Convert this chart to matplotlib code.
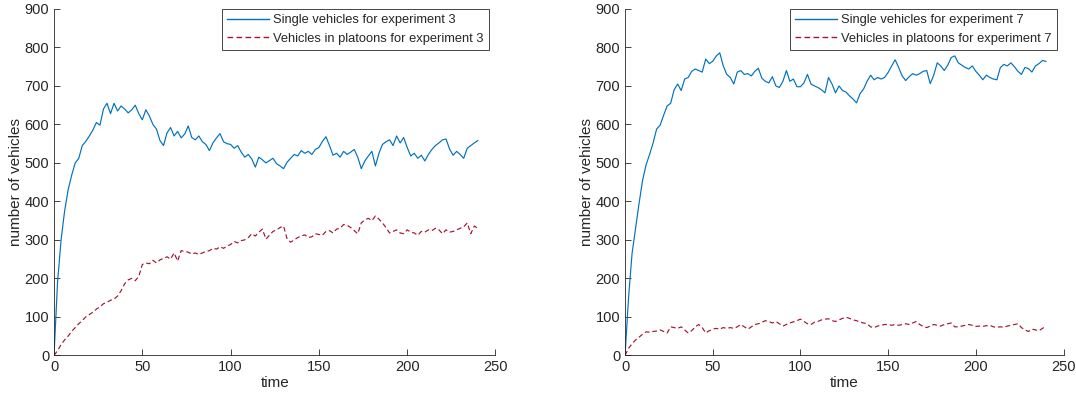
import numpy as np
import matplotlib.pyplot as plt

plt.rcParams['font.family'] = ['Liberation Sans', 'DejaVu Sans']

# time axis, sampled every 2 time units
t = np.arange(0, 241, 2)

# experiment 3
single_3 = [
    0, 190, 300, 375, 430, 468, 500, 512, 545, 556, 570, 585, 605, 598, 640, 655,
    628, 655, 635, 648, 640, 630, 638, 650, 628, 612, 638, 622, 600, 588, 558, 545,
    578, 592, 570, 582, 565, 575, 596, 566, 560, 570, 555, 548, 532, 552, 565, 576,
    555, 550, 548, 538, 545, 528, 515, 522, 510, 489, 515, 508, 500, 506, 512, 498,
    492, 485, 502, 512, 522, 518, 532, 525, 530, 522, 535, 540, 556, 568, 545, 520,
    525, 515, 530, 522, 528, 535, 515, 485, 505, 518, 530, 492, 525, 548, 555, 560,
    545, 570, 552, 566, 540, 518, 525, 512, 520, 505, 522, 535, 545, 552, 560, 562,
    536, 520, 530, 522, 512, 538, 545, 552, 558,
]
platoon_3 = [
    0, 12, 28, 40, 50, 62, 72, 82, 90, 100, 106, 112, 120, 126, 134, 138,
    143, 146, 154, 168, 186, 196, 200, 194, 205, 236, 240, 238, 247, 240, 248, 252,
    256, 250, 266, 245, 272, 270, 268, 263, 266, 262, 266, 270, 272, 278, 276, 282,
    278, 284, 288, 296, 292, 298, 300, 306, 316, 310, 320, 328, 302, 312, 322, 326,
    332, 336, 302, 294, 300, 306, 310, 313, 306, 308, 316, 314, 312, 322, 324, 318,
    328, 330, 340, 338, 332, 324, 316, 344, 352, 356, 350, 362, 354, 344, 332, 318,
    322, 326, 318, 316, 326, 320, 318, 312, 322, 320, 326, 324, 330, 326, 316, 326,
    320, 322, 326, 330, 334, 344, 316, 336, 330,
]

# experiment 7
single_7 = [
    0, 150, 265, 330, 395, 455, 495, 522, 552, 588, 598, 624, 648, 655, 690, 705,
    688, 718, 722, 738, 744, 740, 736, 770, 758, 764, 778, 786, 752, 730, 722, 705,
    736, 740, 730, 732, 726, 738, 746, 720, 712, 708, 724, 700, 696, 712, 740, 712,
    718, 698, 698, 708, 730, 705, 700, 696, 690, 682, 722, 705, 682, 700, 688, 684,
    674, 666, 656, 680, 692, 712, 728, 716, 722, 718, 722, 735, 752, 768, 748, 726,
    714, 724, 732, 728, 732, 738, 740, 706, 728, 760, 752, 740, 754, 774, 778, 760,
    754, 748, 744, 752, 738, 728, 716, 728, 722, 718, 716, 748, 756, 752, 760, 750,
    738, 730, 748, 745, 736, 752, 758, 766, 764,
]
platoon_7 = [
    0, 18, 30, 40, 47, 55, 61, 60, 62, 63, 66, 62, 58, 74, 72, 70,
    74, 66, 58, 64, 74, 80, 72, 58, 64, 68, 70, 68, 72, 70, 72, 70,
    74, 80, 74, 68, 74, 80, 82, 86, 90, 88, 84, 88, 82, 76, 80, 84,
    87, 90, 94, 88, 82, 80, 86, 88, 92, 94, 95, 90, 88, 92, 96, 99,
    96, 92, 90, 86, 84, 82, 74, 72, 76, 78, 80, 80, 78, 80, 78, 80,
    82, 80, 84, 88, 80, 75, 72, 76, 80, 78, 76, 80, 82, 84, 74, 74,
    76, 78, 80, 78, 75, 76, 75, 77, 78, 74, 73, 74, 73, 76, 78, 80,
    82, 72, 66, 62, 68, 66, 64, 70, 76,
]

BLUE = '#0072BD'
RED = '#A2142F'
GREY = '#262626'

fig = plt.figure(figsize=(10.76, 3.94), dpi=100)
ax1 = fig.add_axes([0.0502, 0.0982, 0.4103, 0.879])
ax2 = fig.add_axes([0.5809, 0.0982, 0.4075, 0.879])

panels = [(ax1, single_3, platoon_3, '3'), (ax2, single_7, platoon_7, '7')]
for ax, single, platoon, exp in panels:
    ax.plot(t, single, color=BLUE, lw=0.85,
            label='Single vehicles for experiment ' + exp)
    ax.plot(t, platoon, color=RED, lw=0.85, ls=(0, (4, 2.5)),
            label='Vehicles in platoons for experiment ' + exp)
    ax.set_xlim(0, 250)
    ax.set_ylim(0, 900)
    ax.set_xticks(range(0, 251, 50))
    ax.set_yticks(range(0, 901, 100))
    ax.spines['top'].set_visible(False)
    ax.spines['right'].set_visible(False)
    for s in ('left', 'bottom'):
        ax.spines[s].set_color(GREY)
        ax.spines[s].set_linewidth(0.6)
    ax.tick_params(direction='in', length=4, width=0.6, colors=GREY,
                   labelsize=10.5)
    ax.set_xlabel('time', fontsize=11, color=GREY, labelpad=1)
    ax.set_ylabel('number of vehicles', fontsize=11, color=GREY, labelpad=1)
    leg = ax.legend(loc='upper right', bbox_to_anchor=(0.985, 1.0),
                    fontsize=9.3, handlelength=3.3, handletextpad=0.3,
                    borderaxespad=0, fancybox=False, framealpha=1,
                    borderpad=0.4, labelspacing=0.5)
    leg.get_frame().set_edgecolor(GREY)
    leg.get_frame().set_linewidth(0.6)
    for txt in leg.get_texts():
        txt.set_color(GREY)
    for line in leg.get_lines():
        line.set_linewidth(1.0)

fig.savefig('out.png', dpi=100)
